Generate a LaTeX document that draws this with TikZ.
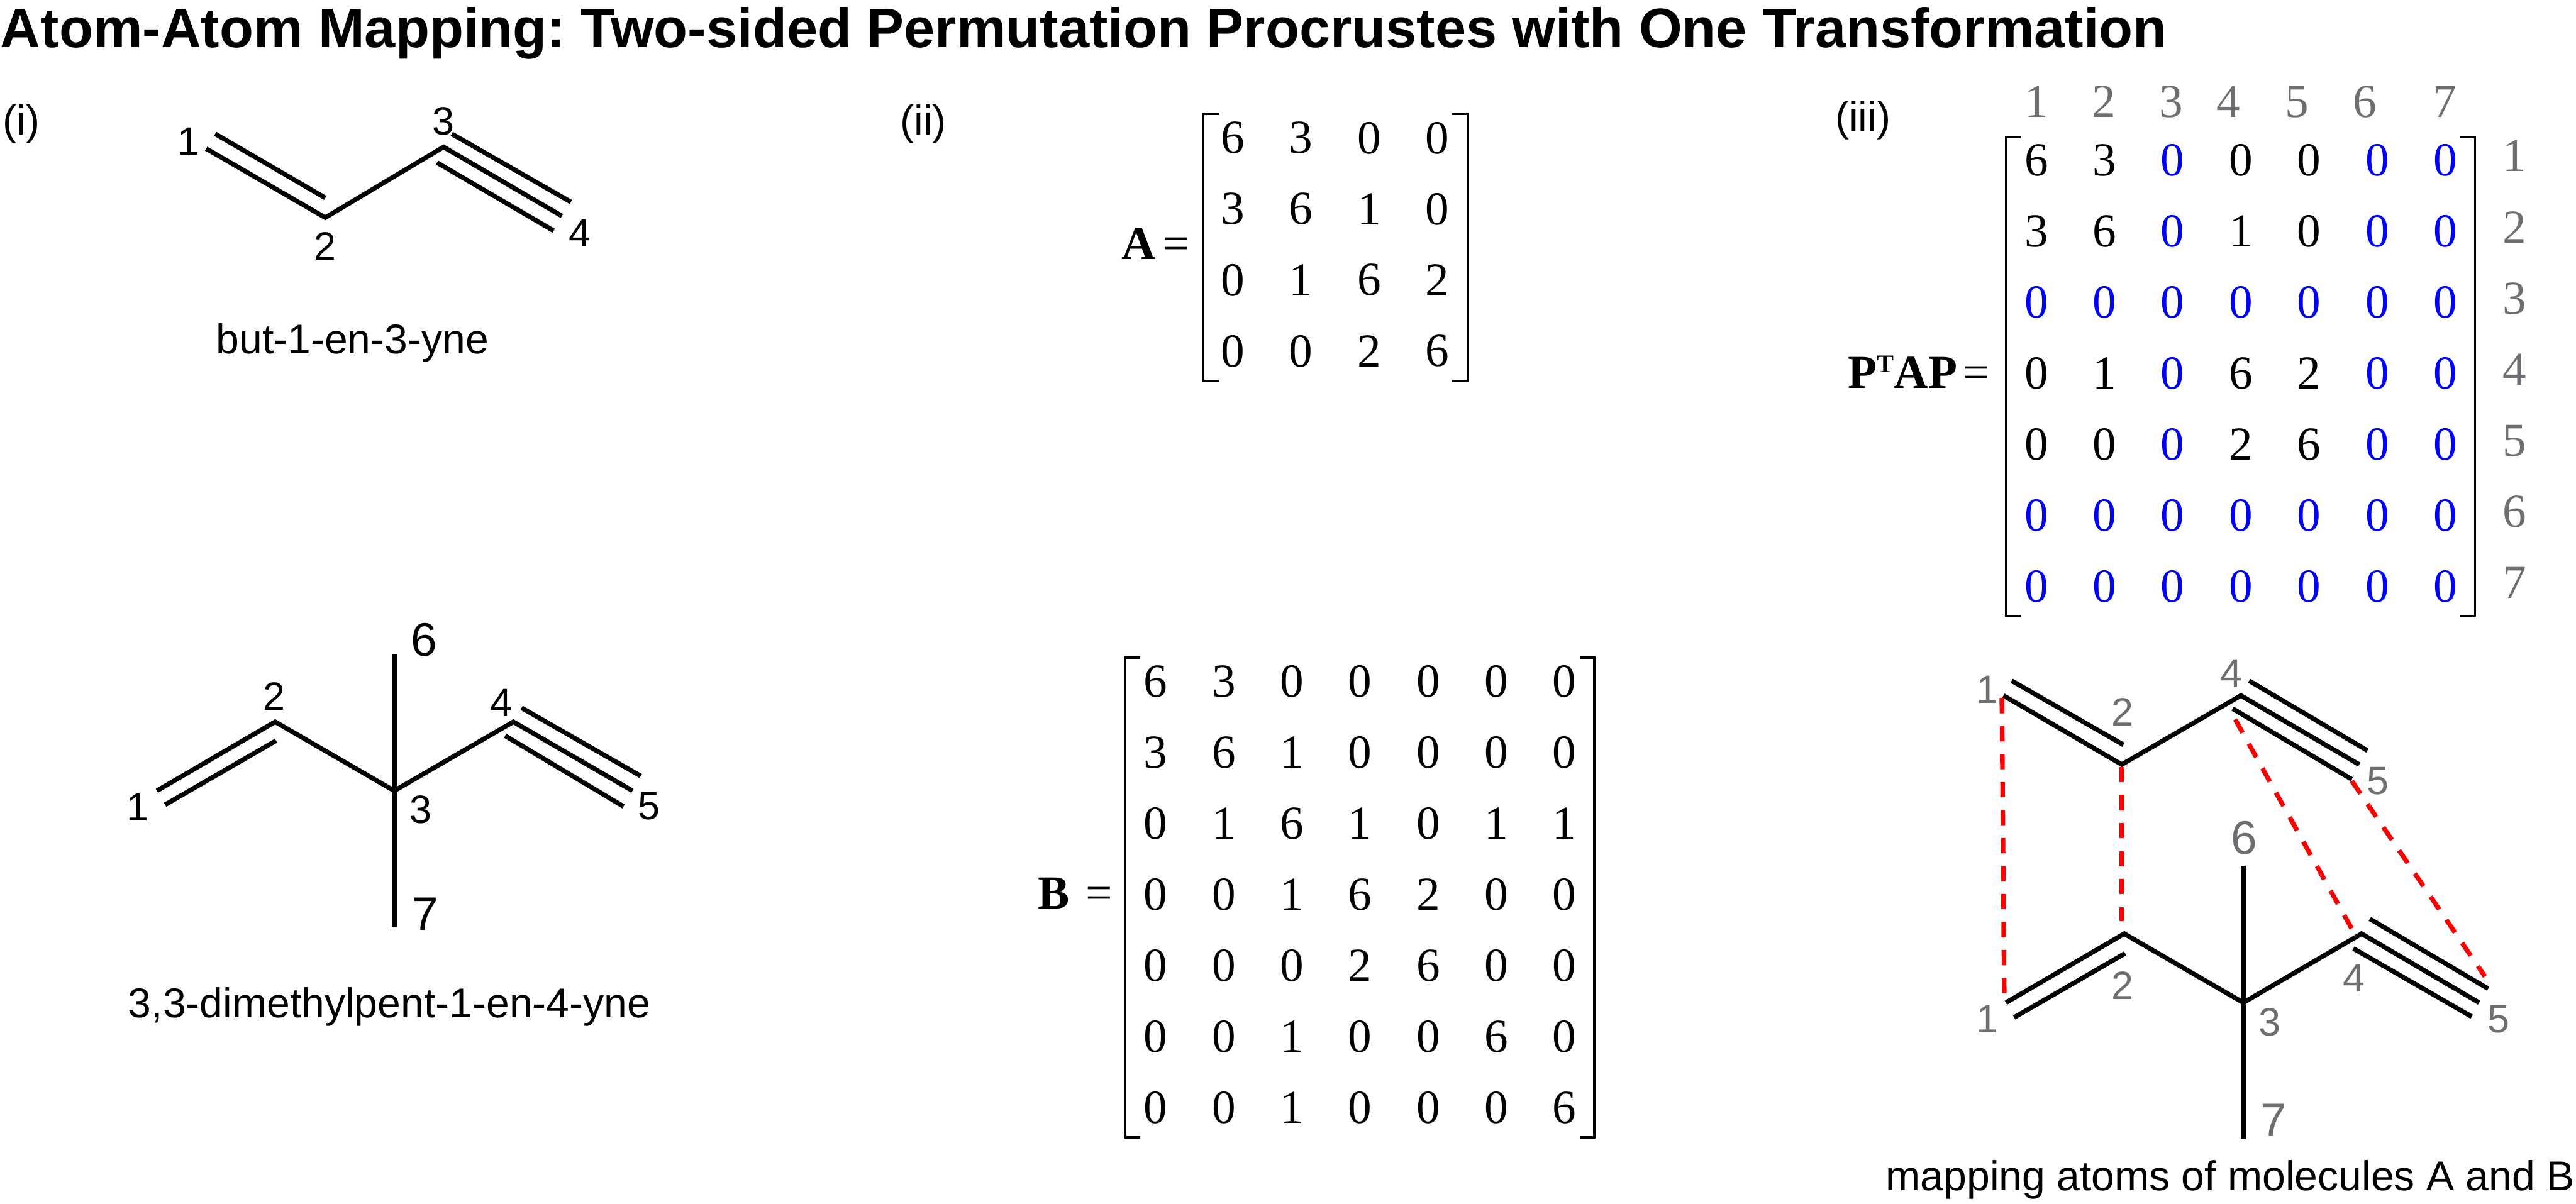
\documentclass[tikz,border=0pt]{standalone}
\usepackage{fontspec}
\setmainfont{Liberation Sans}
\newfontfamily\matfont{Liberation Serif}
\usepackage{xcolor}
\usetikzlibrary{positioning,calc}
\definecolor{zeroblue}{RGB}{0,0,255}
\definecolor{idxgray}{RGB}{109,110,113}
\newcommand{\bz}{\textcolor{zeroblue}{0}}
\frenchspacing

\begin{document}
\begin{tikzpicture}[
    bond/.style={line width=1.6pt, black, line join=miter},
    brk/.style={line width=0.8pt, black, line join=miter},
    maplink/.style={line width=1.6pt, red, dash pattern=on 5.3pt off 4.4pt},
    lbl/.style={inner sep=0pt, font=\fontsize{13.7}{16}\selectfont},
    lblbig/.style={inner sep=0pt, font=\fontsize{16.3}{19}\selectfont},
    txt/.style={inner sep=0pt, anchor=base, font=\fontsize{14.4}{17}\selectfont},
    ent/.style={inner sep=0pt, font=\fontsize{16.4}{19}\selectfont\matfont},
    idx/.style={ent, text=idxgray},
    eqn/.style={inner sep=0pt, anchor=base east, font=\fontsize{16.4}{19}\selectfont\matfont}
]
\useasboundingbox (0,0) rectangle (31.36,14.66);

% ---- Title and panel tags ----
\node[inner sep=0pt, anchor=base west, font=\fontsize{19.25}{23}\bfseries\selectfont] (title) at (0.0,14.08)
    {Atom-Atom Mapping: Two-sided Permutation Procrustes with One Transformation};
\node[txt] (tagi)   at (0.26,13.02)  {(i)};
\node[txt] (tagii)  at (11.24,13.02) {(ii)};
\node[txt] (tagiii) at (22.68,13.06) {(iii)};

% ---- Molecule A, panel (i) ----
\coordinate (a1) at (2.51,12.85);
\coordinate (a2) at (3.96,12.01);
\coordinate (a3) at (5.40,12.87);
\coordinate (a4) at (6.84,12.03);
\coordinate (a1u) at (2.62,13.03);
\coordinate (a2u) at (3.96,12.25);
\coordinate (a3u) at (5.50,13.03);
\coordinate (a4u) at (6.95,12.20);
\coordinate (a3d) at (5.32,12.68);
\coordinate (a4d) at (6.74,11.85);
\draw[bond] (a1) -- (a2) -- (a3) -- (a4);
\draw[bond] (a1u) -- (a2u);
\draw[bond] (a3u) -- (a4u);
\draw[bond] (a3d) -- (a4d);
\node[lbl] (la1) at (2.30,12.94) {1};
\node[lbl] (la2) at (3.96,11.66) {2};
\node[lbl] (la3) at (5.40,13.18) {3};
\node[lbl] (la4) at (7.06,11.82) {4};
\node[txt] (namea) at (4.29,10.35) {but-1-en-3-yne};

% ---- Molecule B, panel (i) ----
\coordinate (b1) at (1.91,5.03);
\coordinate (b2) at (3.35,5.87);
\coordinate (b3) at (4.80,5.03);
\coordinate (b4) at (6.25,5.87);
\coordinate (b5) at (7.70,5.03);
\coordinate (b1d) at (2.01,4.86);
\coordinate (b2d) at (3.36,5.64);
\coordinate (b4u) at (6.35,6.04);
\coordinate (b5u) at (7.80,5.21);
\coordinate (b4d) at (6.15,5.70);
\coordinate (b5d) at (7.59,4.84);
\coordinate (b6) at (4.80,6.70);
\coordinate (b7) at (4.80,3.37);
\draw[bond] (b1) -- (b2) -- (b3) -- (b4) -- (b5);
\draw[bond] (b1d) -- (b2d);
\draw[bond] (b4u) -- (b5u);
\draw[bond] (b4d) -- (b5d);
\draw[bond] (b6) -- (b7);
\node[lbl] (lb1) at (1.68,4.83) {1};
\node[lbl] (lb2) at (3.34,6.18) {2};
\node[lbl] (lb3) at (5.12,4.80) {3};
\node[lbl] (lb4) at (6.10,6.10) {4};
\node[lbl] (lb5) at (7.90,4.84) {5};
\node[lblbig] (lb6) at (5.16,6.87) {6};
\node[lblbig] (lb7) at (5.18,3.53) {7};
\node[txt] (nameb) at (4.74,2.27) {3,3-dimethylpent-1-en-4-yne};

% ---- Matrix A ----
\node[eqn] (eqa) at (14.49,11.50) {\textbf{A}\kern2.5pt=};
\foreach \rowvals [count=\r] in {{6,3,0,0},{3,6,1,0},{0,1,6,2},{0,0,2,6}}
    \foreach \v [count=\c] in \rowvals
        \node[ent] (ma\r\c) at ({15.01+(\c-1)*0.829},{12.98-(\r-1)*0.865}) {\v};
\draw[brk] (14.84,13.27) -- (14.65,13.27) -- (14.65,10.02) -- (14.84,10.02);
\draw[brk] (17.68,13.27) -- (17.87,13.27) -- (17.87,10.02) -- (17.68,10.02);

% ---- Matrix B ----
\node[eqn] (eqb) at (13.55,3.59) {\textbf{B}\kern5.5pt=};
\foreach \rowvals [count=\r] in {{6,3,0,0,0,0,0},{3,6,1,0,0,0,0},{0,1,6,1,0,1,1},{0,0,1,6,2,0,0},
        {0,0,0,2,6,0,0},{0,0,1,0,0,6,0},{0,0,1,0,0,0,6}}
    \foreach \v [count=\c] in \rowvals
        \node[ent] (mb\r\c) at ({14.07+(\c-1)*0.829},{6.36-(\r-1)*0.865}) {\v};
\draw[brk] (13.88,6.65) -- (13.70,6.65) -- (13.70,0.81) -- (13.88,0.81);
\draw[brk] (19.23,6.65) -- (19.41,6.65) -- (19.41,0.81) -- (19.23,0.81);

% ---- Matrix P^T A P with atom indices ----
\node[eqn] (eqc) at (24.23,9.93)
    {\textbf{P\raisebox{5.4pt}{\fontsize{8.8}{10}\selectfont T}AP}\kern2pt=};
\foreach \rowvals [count=\r] in {{6,3,\bz,0,0,\bz,\bz},{3,6,\bz,1,0,\bz,\bz},{\bz,\bz,\bz,\bz,\bz,\bz,\bz},
        {0,1,\bz,6,2,\bz,\bz},{0,0,\bz,2,6,\bz,\bz},{\bz,\bz,\bz,\bz,\bz,\bz,\bz},{\bz,\bz,\bz,\bz,\bz,\bz,\bz}}
    \foreach \v [count=\c] in \rowvals
        \node[ent] (mc\r\c) at ({24.79+(\c-1)*0.830},{12.71-(\r-1)*0.865}) {\v};
\draw[brk] (24.60,12.99) -- (24.42,12.99) -- (24.42,7.16) -- (24.60,7.16);
\draw[brk] (29.95,12.99) -- (30.13,12.99) -- (30.13,7.16) -- (29.95,7.16);
\foreach \px [count=\c] in {24.79,25.61,26.43,27.13,27.96,28.79,29.76}
    \node[idx] (colc\c) at (\px,13.42) {\c};
\foreach \py [count=\r] in {12.76,11.89,11.02,10.16,9.29,8.43,7.56}
    \node[idx] (rowc\r) at (30.61,\py) {\r};

% ---- Mapped molecules, panel (iii) ----
\coordinate (c1) at (24.39,6.19);
\coordinate (c2) at (25.83,5.35);
\coordinate (c4) at (27.28,6.19);
\coordinate (c5) at (28.72,5.35);
\coordinate (c1u) at (24.49,6.37);
\coordinate (c2u) at (25.85,5.59);
\coordinate (c4u) at (27.38,6.37);
\coordinate (c5u) at (28.82,5.52);
\coordinate (c4d) at (27.18,6.03);
\coordinate (c5d) at (28.63,5.17);
\draw[bond] (c1) -- (c2) -- (c4) -- (c5);
\draw[bond] (c1u) -- (c2u);
\draw[bond] (c4u) -- (c5u);
\draw[bond] (c4d) -- (c5d);
\coordinate (d1) at (24.42,2.45);
\coordinate (d2) at (25.86,3.29);
\coordinate (d3) at (27.31,2.45);
\coordinate (d4) at (28.75,3.29);
\coordinate (d5) at (30.18,2.45);
\coordinate (d1d) at (24.52,2.27);
\coordinate (d2d) at (25.87,3.05);
\coordinate (d4u) at (28.85,3.47);
\coordinate (d5u) at (30.29,2.62);
\coordinate (d4d) at (28.65,3.11);
\coordinate (d5d) at (30.09,2.28);
\coordinate (d6) at (27.31,4.12);
\coordinate (d7) at (27.31,0.79);
\draw[bond] (d1) -- (d2) -- (d3) -- (d4) -- (d5);
\draw[bond] (d1d) -- (d2d);
\draw[bond] (d4u) -- (d5u);
\draw[bond] (d4d) -- (d5d);
\draw[bond] (d6) -- (d7);
\begin{scope}[lbl/.append style={text=idxgray}, lblbig/.append style={text=idxgray}]
\node[lbl] (lc1) at (24.19,6.26) {1};
\node[lbl] (lc2) at (25.84,5.99) {2};
\node[lbl] (lc4) at (27.16,6.46) {4};
\node[lbl] (lc5) at (28.95,5.15) {5};
\node[lbl] (ld1) at (24.19,2.25) {1};
\node[lbl] (ld2) at (25.84,2.66) {2};
\node[lbl] (ld3) at (27.63,2.21) {3};
\node[lbl] (ld4) at (28.66,2.75) {4};
\node[lbl] (ld5) at (30.42,2.25) {5};
\node[lblbig] (ld6) at (27.32,4.46) {6};
\node[lblbig] (ld7) at (27.68,1.02) {7};
\end{scope}

% ---- Atom mapping links ----
\coordinate (m1a) at (24.37,6.16);
\coordinate (m1b) at (24.40,2.48);
\coordinate (m2a) at (25.83,5.32);
\coordinate (m2b) at (25.83,3.44);
\coordinate (m3a) at (27.21,5.90);
\coordinate (m3b) at (28.63,3.35);
\coordinate (m4a) at (28.63,5.15);
\coordinate (m4b) at (30.25,2.77);
\draw[maplink] (m1a) -- (m1b);
\draw[maplink] (m2a) -- (m2b);
\draw[maplink] (m3a) -- (m3b);
\draw[maplink] (m4a) -- (m4b);

\node[txt] (capmap) at (27.15,0.16) {mapping atoms of molecules A and B};
\end{tikzpicture}
\end{document}
